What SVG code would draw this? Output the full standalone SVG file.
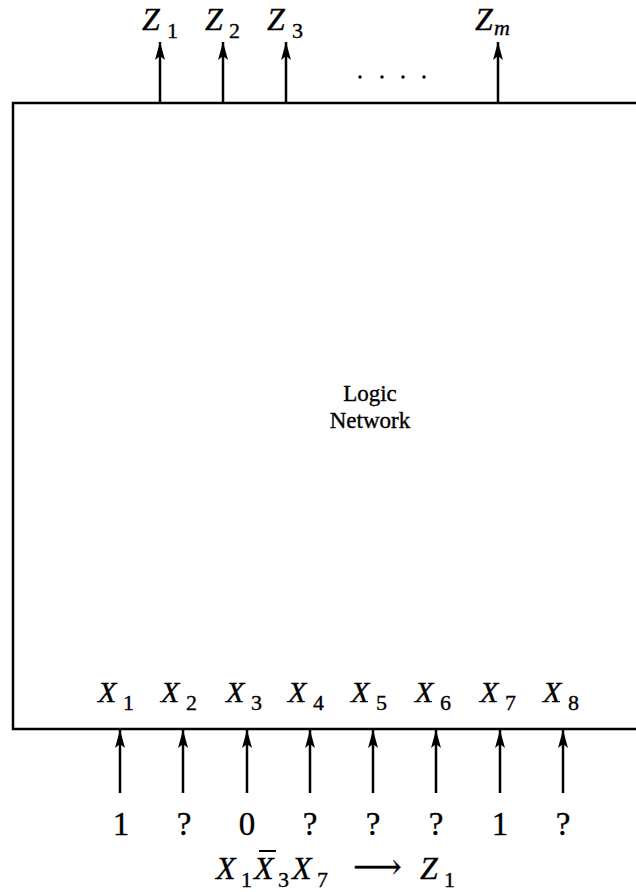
<svg xmlns="http://www.w3.org/2000/svg" width="636" height="892" viewBox="0 0 636 892">
<style>
  text { font-family: "Liberation Serif", "DejaVu Serif", "Times New Roman", serif; fill: #000; stroke: #000; stroke-width: 0.35; }
  .v { font-style: italic; font-size: 30px; }
  .vz { font-style: italic; font-size: 32px; }
  .s { font-size: 22px; }
  .n { font-size: 33px; text-anchor: middle; }
  .lbl { font-size: 23px; text-anchor: middle; }
  .wire { stroke: #000; stroke-width: 2.5; fill: none; marker-end: url(#ah); }
  .box { stroke: #000; stroke-width: 2.5; fill: none; }
</style>
<defs>
  <marker id="ah" markerUnits="userSpaceOnUse" viewBox="0 -6 20 12" refX="18" refY="0" markerWidth="20" markerHeight="12" orient="auto">
    <path d="M0,-5 L18,0 L0,5 L4,0 z" fill="#000"/>
  </marker>
</defs>
<rect width="636" height="892" fill="#fff"/>

<g id="network">
  <path class="box" d="M636,103 L13,103 L13,729 L636,729"/>
  <text class="lbl" x="370" y="401">Logic</text>
  <text class="lbl" x="370" y="428">Network</text>
</g>

<g id="outputs">
  <text class="vz" x="142" y="30">Z</text><text class="s" x="167" y="38">1</text>
  <text class="vz" x="205" y="30">Z</text><text class="s" x="229" y="38">2</text>
  <text class="vz" x="267" y="30">Z</text><text class="s" x="292" y="38">3</text>
  <text class="vz" x="475" y="30">Z</text><text class="s" x="494" y="35" font-style="italic">m</text>
  <g id="dots" fill="#000">
    <circle cx="360" cy="77" r="1.7"/>
    <circle cx="382" cy="77" r="1.7"/>
    <circle cx="403" cy="77" r="1.7"/>
    <circle cx="424" cy="77" r="1.7"/>
  </g>
</g>

<g id="inputs">
  <text class="v" x="98" y="702">X</text><text class="s" x="123" y="710">1</text>
  <text class="v" x="161" y="702">X</text><text class="s" x="186" y="710">2</text>
  <text class="v" x="226" y="702">X</text><text class="s" x="251" y="710">3</text>
  <text class="v" x="288" y="702">X</text><text class="s" x="313" y="710">4</text>
  <text class="v" x="351" y="702">X</text><text class="s" x="376" y="710">5</text>
  <text class="v" x="415" y="702">X</text><text class="s" x="440" y="710">6</text>
  <text class="v" x="480" y="702">X</text><text class="s" x="505" y="710">7</text>
  <text class="v" x="543" y="702">X</text><text class="s" x="568" y="710">8</text>
</g>

<g id="values">
  <text class="n" x="121" y="835">1</text>
  <text class="n" x="184" y="835">?</text>
  <text class="n" x="247" y="835">0</text>
  <text class="n" x="310" y="835">?</text>
  <text class="n" x="373" y="835">?</text>
  <text class="n" x="436" y="835">?</text>
  <text class="n" x="500" y="835">1</text>
  <text class="n" x="563" y="835">?</text>
</g>

<g id="expression">
  <text class="vz" x="216" y="879">X</text><text class="s" x="241" y="887">1</text>
  <text class="vz" x="254" y="879">X</text><text class="s" x="278" y="887">3</text>
  <line x1="259" y1="851" x2="276" y2="851" stroke="#000" stroke-width="2"/>
  <text class="vz" x="292" y="879">X</text><text class="s" x="317" y="887">7</text>
  <text x="353" y="878" font-size="34">⟶</text>
  <text class="vz" x="420" y="879">Z</text><text class="s" x="444" y="887">1</text>
</g>

<g id="connectors">
  <line class="wire" x1="160" y1="103" x2="160" y2="42"/>
  <line class="wire" x1="223" y1="103" x2="223" y2="42"/>
  <line class="wire" x1="286" y1="103" x2="286" y2="42"/>
  <line class="wire" x1="498" y1="103" x2="498" y2="42"/>
  <line class="wire" x1="120" y1="793" x2="120" y2="730"/>
  <line class="wire" x1="183" y1="793" x2="183" y2="730"/>
  <line class="wire" x1="247" y1="793" x2="247" y2="730"/>
  <line class="wire" x1="310" y1="793" x2="310" y2="730"/>
  <line class="wire" x1="373" y1="793" x2="373" y2="730"/>
  <line class="wire" x1="436" y1="793" x2="436" y2="730"/>
  <line class="wire" x1="500" y1="793" x2="500" y2="730"/>
  <line class="wire" x1="563" y1="793" x2="563" y2="730"/>
</g>
</svg>
